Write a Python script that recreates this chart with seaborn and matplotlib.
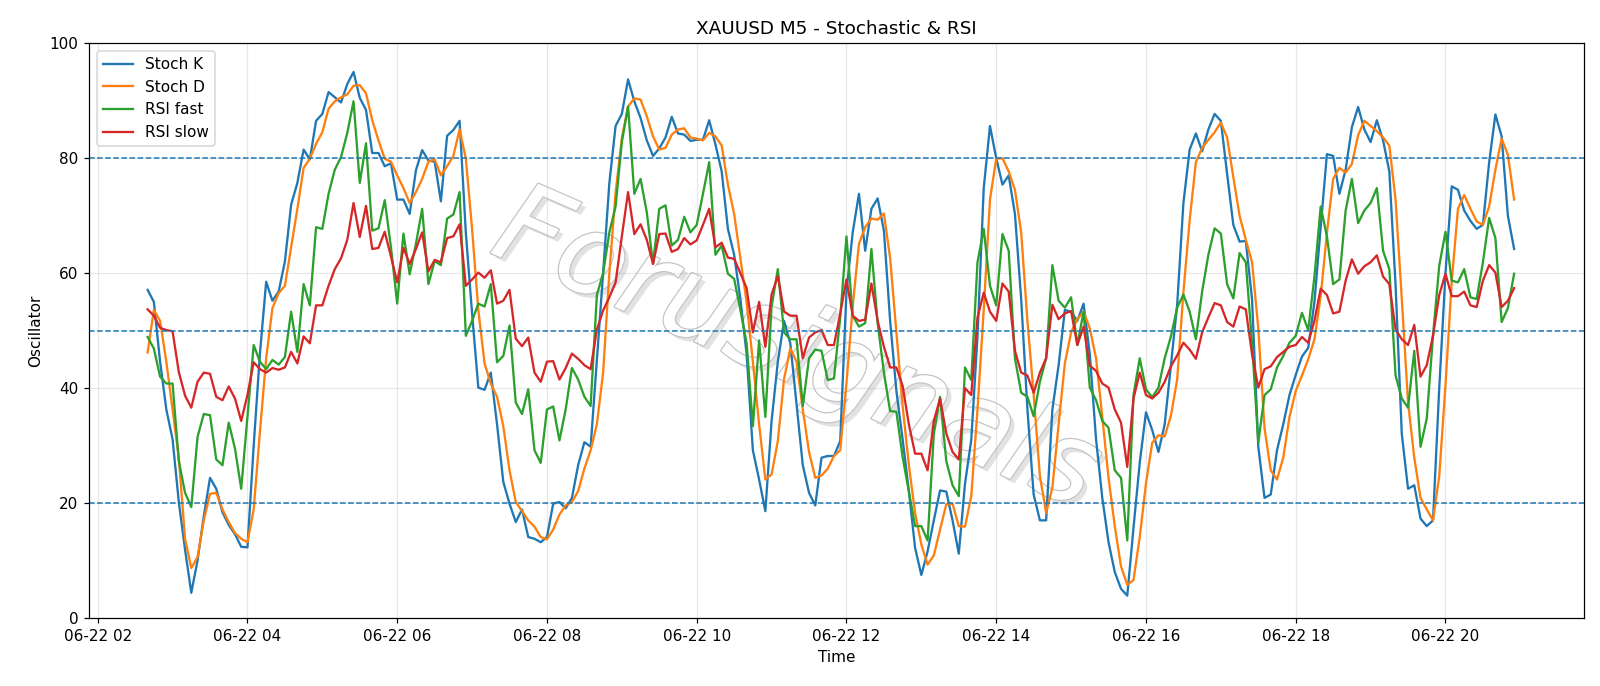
import pandas as pd
import matplotlib
matplotlib.use("Agg")
import matplotlib.pyplot as plt
import matplotlib.dates as mdates
import matplotlib.patheffects as pe
import seaborn as sns

# --- Data (M5 bars, 06-22 02:40 .. 20:55) ---
start_time = "2023-06-22 02:40"

stoch_k = [
    57.1, 55.0, 44.6, 36.3,
    31.1, 20.2, 11.9, 4.4, 10.0, 17.7, 24.4, 22.5, 18.4, 16.2, 14.6, 12.4,
    12.3, 30.0, 46.0, 58.5, 55.2, 56.8, 62.0, 71.9, 75.7, 81.5, 79.8, 86.5,
    87.7, 91.5, 90.6, 89.7, 92.9, 95.0, 90.5, 88.4, 80.9, 80.9, 78.6, 79.1,
    72.8, 72.8, 70.3, 77.9, 81.4, 79.6, 79.4, 72.5, 83.9, 84.9, 86.5, 67.0,
    53.0, 40.1, 39.7, 42.7, 33.7, 23.7, 19.9, 16.7, 18.9, 14.1, 13.8, 13.2,
    14.1, 19.9, 20.2, 19.1, 20.9, 26.6, 30.6, 29.8, 45.0, 60.0, 75.7, 85.6,
    87.7, 93.7, 89.9, 87.0, 83.1, 80.4, 81.7, 83.6, 87.2, 84.3, 84.1, 83.0,
    83.2, 83.2, 86.6, 82.4, 77.7, 67.7, 63.2, 55.5, 45.9, 29.2, 24.1, 18.6,
    34.3, 44.6, 51.7, 47.8, 37.2, 26.6, 21.8, 19.6, 27.9, 28.2, 28.2, 30.8,
    56.8, 67.1, 73.8, 63.9, 71.2, 73.0, 67.4, 51.7, 39.5, 31.1, 22.1, 12.2,
    7.5, 11.6, 17.0, 22.2, 22.0, 17.0, 11.2, 23.4, 31.0, 49.0, 74.8, 85.6,
    80.0, 75.4, 77.0, 70.3, 55.5, 36.3, 21.5, 17.0, 17.0, 36.3, 44.0, 53.6,
    53.3, 51.7, 54.7, 45.9, 31.1, 20.9, 13.2, 8.0, 5.1, 3.9, 15.7, 27.0,
    35.8, 32.7, 28.9, 33.7, 44.0, 54.5, 72.2, 81.5, 84.3, 81.2, 85.0, 87.7,
    86.5, 77.3, 68.4, 65.5, 65.6, 55.5, 29.8, 20.9, 21.5, 29.2, 33.7, 38.8,
    42.3, 45.5, 47.0, 55.0, 68.0, 80.7, 80.4, 73.8, 78.0, 85.4, 88.9, 85.0,
    82.8, 86.6, 83.1, 77.7, 58.0, 32.0, 22.5, 23.1, 17.3, 16.0, 17.0, 40.0,
    60.0, 75.1, 74.5, 70.9, 69.1, 67.7, 68.4, 79.3, 87.6, 83.8, 70.0, 64.2,
]

stoch_d = [
    46.2, 53.6, 51.7, 44.6,
    36.3, 27.9, 13.8, 8.7, 10.6, 17.0, 21.6, 21.8, 18.9, 16.7, 14.8, 13.8,
    13.2, 18.9, 32.4, 45.2, 53.9, 56.5, 57.8, 64.5, 71.2, 78.3, 79.9, 82.5,
    84.5, 88.6, 89.9, 90.6, 91.1, 92.6, 92.7, 91.3, 86.6, 83.1, 79.9, 79.4,
    77.0, 74.8, 72.2, 74.1, 76.4, 79.4, 79.8, 77.0, 78.6, 80.4, 85.0, 79.9,
    67.7, 53.6, 44.3, 40.8, 38.5, 33.4, 25.7, 20.2, 18.6, 17.0, 15.9, 14.1,
    13.7, 15.4, 18.0, 19.6, 20.2, 22.1, 26.0, 29.2, 33.7, 42.7, 60.0, 74.0,
    83.5, 89.0, 90.4, 90.2, 87.3, 83.8, 81.5, 81.8, 84.1, 85.0, 85.2, 83.6,
    83.4, 83.1, 84.4, 83.8, 82.2, 75.4, 70.3, 62.6, 54.9, 44.6, 33.7, 24.1,
    25.0, 30.8, 41.6, 46.9, 44.6, 36.3, 28.9, 24.4, 24.8, 26.0, 28.2, 29.2,
    40.8, 54.2, 65.1, 68.0, 69.5, 69.3, 70.4, 62.6, 49.7, 36.9, 26.6, 18.3,
    12.8, 9.3, 10.9, 15.4, 19.8, 19.9, 16.0, 15.9, 21.2, 36.3, 53.6, 72.8,
    79.9, 80.0, 77.7, 74.5, 67.1, 51.7, 38.9, 24.7, 18.3, 22.7, 33.7, 44.3,
    49.7, 52.0, 53.3, 50.4, 45.2, 35.0, 24.4, 16.0, 9.0, 5.8, 6.6, 14.1,
    23.4, 30.5, 31.8, 31.6, 35.2, 41.5, 56.7, 69.2, 79.3, 81.8, 83.2, 84.5,
    86.2, 83.6, 76.7, 70.0, 65.8, 61.9, 50.4, 33.0, 25.7, 24.1, 27.9, 35.0,
    39.5, 42.2, 45.0, 48.5, 56.0, 67.0, 76.4, 78.3, 77.5, 79.0, 84.0, 86.5,
    85.6, 84.7, 83.6, 82.2, 72.8, 55.5, 37.5, 27.9, 20.9, 18.9, 17.0, 24.7,
    40.5, 58.5, 71.2, 73.6, 71.2, 69.0, 68.4, 71.6, 78.0, 83.4, 80.6, 72.8,
]

rsi_fast = [
    48.9, 46.9, 42.0, 40.8,
    40.8, 27.3, 21.8, 19.3, 31.5, 35.5, 35.3, 27.6, 26.6, 34.0, 29.5, 22.5,
    35.0, 47.5, 44.6, 43.3, 44.9, 44.1, 45.4, 53.3, 46.3, 58.1, 54.4, 68.0,
    67.7, 73.8, 78.0, 80.2, 84.4, 89.9, 75.7, 82.6, 67.4, 67.8, 72.7, 64.5,
    54.7, 66.9, 59.8, 65.1, 71.2, 58.1, 62.1, 61.4, 69.5, 70.2, 74.1, 49.1,
    51.7, 54.7, 54.2, 58.1, 44.5, 45.6, 50.9, 37.5, 35.5, 39.8, 29.2, 27.0,
    36.3, 36.8, 30.9, 36.3, 43.5, 41.5, 38.5, 36.9, 56.2, 60.0, 67.1, 71.6,
    82.8, 89.0, 73.8, 76.4, 70.6, 61.6, 71.2, 71.8, 64.8, 65.8, 69.8, 67.1,
    68.4, 73.8, 79.3, 63.2, 64.8, 59.9, 59.0, 53.6, 47.8, 33.4, 48.3, 35.0,
    54.2, 60.7, 49.7, 48.5, 48.5, 36.9, 45.2, 46.7, 46.5, 41.4, 41.7, 52.3,
    66.4, 52.6, 50.7, 51.3, 64.2, 51.3, 42.7, 36.0, 35.9, 28.0, 22.0, 16.0,
    16.0, 13.5, 32.0, 38.5, 27.3, 23.1, 21.2, 43.6, 41.4, 61.9, 67.7, 57.8,
    54.4, 66.8, 63.9, 45.2, 39.2, 38.5, 35.1, 41.1, 45.2, 61.4, 55.2, 54.0,
    55.8, 47.5, 53.3, 40.1, 37.9, 34.3, 33.1, 25.7, 24.4, 13.5, 38.8, 45.2,
    39.8, 38.4, 40.1, 45.2, 49.0, 54.0, 56.3, 53.3, 48.5, 56.8, 63.2, 67.8,
    66.9, 58.1, 55.6, 63.5, 61.9, 47.8, 30.5, 38.8, 39.8, 43.6, 45.6, 47.9,
    49.1, 53.1, 50.1, 59.4, 71.6, 66.4, 58.1, 58.9, 70.9, 76.4, 68.7, 70.9,
    72.2, 74.8, 63.9, 60.7, 42.2, 38.2, 36.6, 46.5, 29.8, 34.7, 49.1, 61.3,
    67.2, 58.7, 58.4, 60.7, 55.8, 55.5, 61.9, 69.6, 66.1, 51.5, 53.9, 59.9,
]

rsi_slow = [
    53.7, 52.6, 50.5, 50.1,
    49.9, 42.8, 38.7, 36.6, 41.1, 42.7, 42.5, 38.5, 37.9, 40.3, 38.2, 34.3,
    38.8, 44.5, 43.3, 42.7, 43.5, 43.2, 43.6, 46.3, 44.3, 49.0, 47.8, 54.4,
    54.4, 57.8, 60.7, 62.6, 65.8, 72.2, 66.3, 71.7, 64.2, 64.4, 67.2, 62.9,
    58.4, 64.4, 61.6, 64.2, 67.1, 60.3, 62.3, 61.9, 66.1, 66.4, 68.5, 57.8,
    58.9, 60.1, 59.2, 60.5, 54.7, 55.2, 57.1, 48.6, 47.3, 48.8, 42.7, 41.1,
    44.6, 44.7, 41.5, 43.5, 46.0, 45.1, 44.0, 43.3, 50.2, 53.5, 55.8, 58.4,
    66.4, 74.1, 66.8, 68.5, 65.8, 61.6, 66.8, 66.9, 63.7, 64.2, 66.1, 65.0,
    65.7, 68.4, 71.2, 64.5, 65.3, 62.7, 62.5, 60.0, 57.4, 49.7, 55.0, 47.2,
    56.3, 59.5, 53.3, 52.6, 52.6, 45.2, 48.8, 49.7, 50.1, 47.5, 47.5, 53.0,
    58.9, 52.6, 51.7, 51.9, 58.2, 51.7, 47.2, 43.6, 43.6, 40.4, 33.7, 28.6,
    28.6, 25.7, 34.3, 38.2, 32.1, 28.9, 27.6, 40.0, 38.8, 52.3, 56.6, 53.3,
    51.7, 58.2, 56.8, 46.5, 42.7, 42.2, 39.2, 42.7, 45.2, 54.5, 52.0, 53.0,
    53.4, 47.5, 50.7, 43.9, 43.0, 40.8, 40.1, 36.3, 34.0, 26.3, 38.2, 42.7,
    38.8, 38.2, 39.2, 41.1, 43.8, 45.7, 47.9, 46.7, 45.1, 49.7, 52.3, 54.8,
    54.4, 51.5, 50.7, 54.2, 53.7, 45.9, 40.1, 43.3, 43.8, 45.4, 46.3, 47.2,
    47.5, 48.9, 47.9, 51.7, 57.3, 56.2, 53.0, 53.3, 58.7, 62.4, 59.9, 61.2,
    61.9, 63.1, 59.4, 58.1, 50.2, 48.5, 47.5, 51.0, 42.0, 44.0, 49.1, 56.2,
    59.9, 56.0, 56.0, 56.8, 54.4, 54.1, 58.7, 61.4, 60.1, 54.1, 55.2, 57.4,
]

levels = [80, 50, 20]

times = pd.date_range(start_time, periods=len(stoch_k), freq="5min")
df = pd.DataFrame({
    "Time": times,
    "Stoch K": stoch_k,
    "Stoch D": stoch_d,
    "RSI fast": rsi_fast,
    "RSI slow": rsi_slow,
})

colors = {
    "Stoch K": "#1f77b4",
    "Stoch D": "#ff7f0e",
    "RSI fast": "#2ca02c",
    "RSI slow": "#d62728",
}

# --- Plot ---
fig, ax = plt.subplots(figsize=(1600 / 110, 686 / 110), dpi=110)
fig.subplots_adjust(left=0.0556, right=0.99, top=0.937, bottom=0.099)

for name, col in colors.items():
    sns.lineplot(data=df, x="Time", y=name, ax=ax, color=col, label=name, linewidth=1.5)

for lvl in levels:
    ax.axhline(lvl, linestyle="--", linewidth=1, color="#1f77b4")

# watermark
ax.text(0.473, 0.463, "Forusignals", transform=ax.transAxes, rotation=-23.5,
        fontsize=74, style="italic", color="white", ha="center", va="center",
        zorder=0.5,
        path_effects=[pe.withSimplePatchShadow(offset=(3, -3), shadow_rgbFace="#d0d0d0", alpha=0.6),
                      pe.withStroke(linewidth=1.6, foreground="#c4c4c4")])

ax.set_ylim(0, 100)
ax.set_xlim(pd.Timestamp("2023-06-22 01:53"), pd.Timestamp("2023-06-22 21:51"))
ax.xaxis.set_major_locator(mdates.HourLocator(byhour=range(0, 24, 2)))
ax.xaxis.set_major_formatter(mdates.DateFormatter("%m-%d %H"))
ax.grid(True, alpha=0.3)

ax.set_title("XAUUSD M5 - Stochastic & RSI")
ax.set_xlabel("Time")
ax.set_ylabel("Oscillator")
ax.legend(loc="upper left")

fig.savefig("out.png", dpi=110)
